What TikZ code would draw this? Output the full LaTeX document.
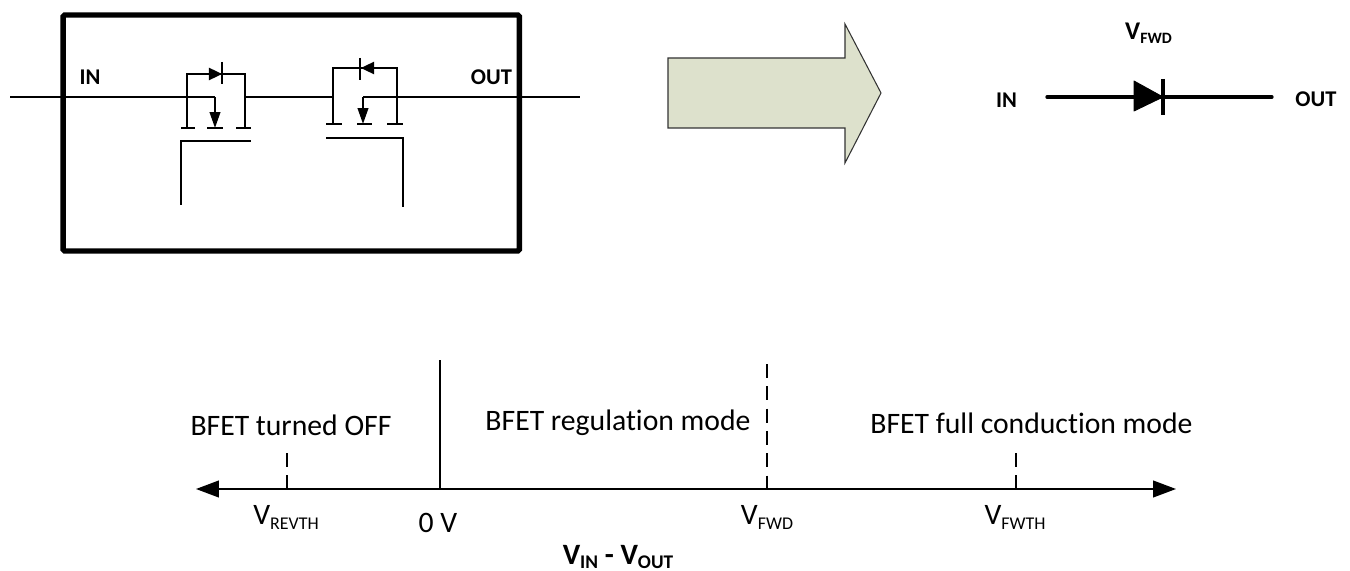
\documentclass[tikz,border=0pt]{standalone}
\usepackage{fontspec}
\setmainfont{Carlito}[Ligatures=NoCommon]
\usetikzlibrary{arrows.meta}
\definecolor{block fill}{HTML}{DDE1CC}
\newcommand{\vsub}[2]{#1\raisebox{-0.35ex}{\fontsize{10.2}{12}\selectfont #2}}
\newcommand{\vbold}[2]{#1\raisebox{-0.3ex}{\fontsize{9}{11}\selectfont #2}}
\newcommand{\vdiff}[2]{#1\raisebox{-0.3ex}{\fontsize{11}{13}\selectfont #2}}

\begin{document}
\begin{tikzpicture}[x=0.02cm, y=-0.02cm,
	wire/.style = {draw, line width=1.1pt},
	thin wire/.style = {draw, line width=1pt},
	fat wire/.style = {draw, line width=1.9pt},
	side arrow/.style = {-{Triangle[length=7.5pt, width=7pt]}, line width=1.1pt},
	down arrow/.style = {-{Triangle[length=9pt, width=6pt]}, line width=1.1pt},
	axis arrow/.style = {{Triangle[length=13pt, width=9.5pt]}-{Triangle[length=13pt, width=9.5pt]}, line width=1pt},
	label/.style = {inner sep=0pt, font=\fontsize{16.9}{20}\selectfont},
	bold label/.style = {inner sep=0pt, font=\fontsize{12.8}{15}\selectfont\bfseries},
	top label/.style = {inner sep=0pt, font=\fontsize{14.5}{17}\selectfont\bfseries},
	diff label/.style = {inner sep=0pt, font=\fontsize{16.8}{20}\selectfont\bfseries},
	block/.style = {draw=black!80, fill=block fill, line width=0.6pt}]
	\useasboundingbox (0,0) rectangle (1350,571);
	% left picture
	\node (box) [draw, line width=3.1pt, rounded corners=1pt, minimum width=9.13cm, minimum height=4.72cm, inner sep=0pt] at (291.25,133) {};
	\coordinate (in) at (10,97);
	\coordinate (out) at (580,97);
	\coordinate (a1) at (187,97);
	\coordinate (a2) at (187,74);
	\coordinate (a3) at (187,128);
	\coordinate (a4) at (215,97);
	\coordinate (a5) at (215,128);
	\coordinate (a6) at (245,97);
	\coordinate (a7) at (245,74);
	\coordinate (a8) at (245,128);
	\coordinate (a9) at (222,74);
	\coordinate (b1) at (333,97);
	\coordinate (b2) at (333,68);
	\coordinate (b3) at (333,124);
	\coordinate (b4) at (363,97);
	\coordinate (b5) at (363,124);
	\coordinate (b6) at (397,97);
	\coordinate (b7) at (397,68);
	\coordinate (b8) at (397,124);
	\coordinate (b9) at (361,68);
	\draw[wire] (in) -- (a1) -- (a4);
	\draw[wire] (a6) -- (b1);
	\draw[wire] (b6) -- (out);
	\draw[wire] (a3) -- (a2) -- (a7) -- (a8);
	\draw[wire] (b3) -- (b2) -- (b7) -- (b8);
	\draw[wire] (b6) -- (b4);
	\draw[down arrow] (a4) -- (a5);
	\draw[down arrow] (b4) -- (b5);
	\draw[side arrow] (a2) -- (a9);
	\draw[side arrow] (b7) -- (b9);
	\coordinate (c1) at (222,62);
	\coordinate (c2) at (222,84);
	\coordinate (c3) at (360,58);
	\coordinate (c4) at (360,80);
	\draw[wire] (c1) -- (c2);
	\draw[wire] (c3) -- (c4);
	\foreach \l/\r/\y/\n in {181/195/128/1, 207/223/128/2, 236/251/128/3, 326/342/124/4, 357/372/124/5, 387/403/124/6}
	{
		\coordinate (g\n l) at (\l,\y);
		\coordinate (g\n r) at (\r,\y);
		\draw[wire] (g\n l) -- (g\n r);
	}
	\coordinate (d1) at (181,205);
	\coordinate (d2) at (181,141);
	\coordinate (d3) at (251,141);
	\coordinate (e1) at (326,138);
	\coordinate (e2) at (403,138);
	\coordinate (e3) at (403,207);
	\draw[wire] (d1) -- (d2) -- (d3);
	\draw[wire] (e1) -- (e2) -- (e3);
	\node[bold label] (inlabel) at (90,77) {IN};
	\node[bold label] (outlabel) at (491.5,77) {OUT};
	% big arrow
	\draw[block] (668,58) -- (845,58) -- (845,24) -- (881,93) -- (845,163) -- (845,128) -- (668,128) -- cycle;
	% diode
	\coordinate (p) at (1047,97);
	\coordinate (q) at (1272,97);
	\coordinate (k) at (1163,97);
	\draw[fat wire, line cap=round] (p) -- (q);
	\fill[draw, line join=round, line width=0.5pt] (1134,81) -- (k) -- (1134,111) -- cycle;
	\coordinate (k1) at (1163,79);
	\coordinate (k2) at (1163,115);
	\draw[fat wire] (k1) -- (k2);
	\node[bold label] (in2) at (1006.5,100) {IN};
	\node[bold label] (out2) at (1316,99) {OUT};
	\node[top label] (vfwd) at (1148.5,33) {\vbold{V}{FWD}};
	% axis
	\coordinate (l) at (196,489);
	\coordinate (r) at (1176,489);
	\draw[axis arrow] (l) -- (r);
	\coordinate (z0) at (440,489);
	\coordinate (z1) at (440,360);
	\draw[thin wire] (z0) -- (z1);
	\foreach \x/\t/\n in {287/453/a, 767/364/b, 1016/453/c}
	{
		\coordinate (t\n) at (\x,489);
		\coordinate (u\n) at (\x,\t);
		\draw[thin wire, dash pattern=on 8pt off 4.7pt] (u\n) -- (t\n);
	}
	\node[label] (off) at (291,425) {BFET turned OFF};
	\node[label] (reg) at (618,423) {BFET regulation mode};
	\node[label] (full) at (1031.5,423) {BFET full conduction mode};
	\node[label] (v1) at (286,517) {\vsub{V}{REVTH}};
	\node[label] (v2) at (438,523) {0 V};
	\node[label] (v3) at (767,517) {\vsub{V}{FWD}};
	\node[label] (v4) at (1015,517) {\vsub{V}{FWTH}};
	\node[diff label] (diff) at (618,557) {\vdiff{V}{IN} - \vdiff{V}{OUT}};
\end{tikzpicture}
\end{document}
